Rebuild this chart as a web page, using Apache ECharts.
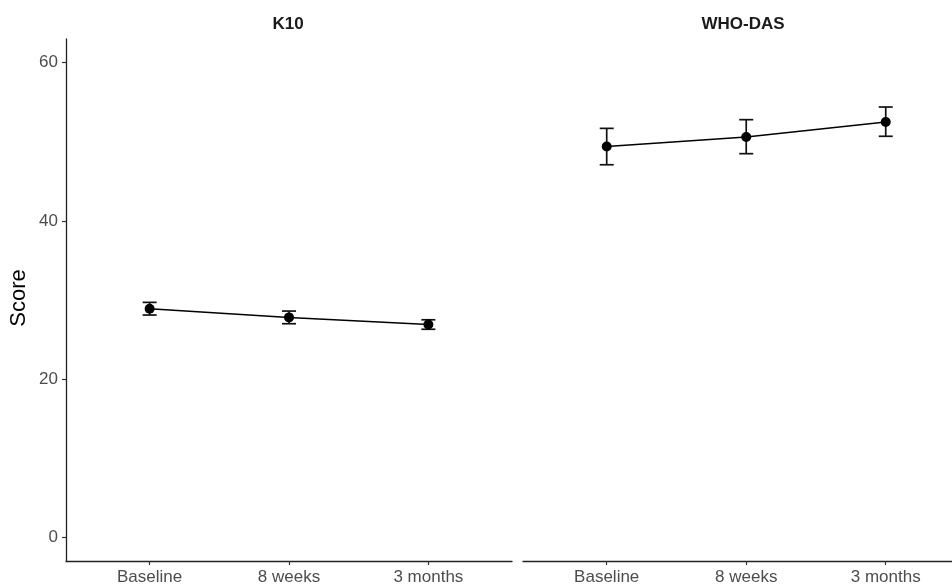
<!DOCTYPE html>
<html style="height: 100%">
<head>
	<meta charset="utf-8">
</head>
<body style="height: 100%; margin: 0; background: #fff">
	<div id="container" style="width: 952px; height: 586px"></div>
	<script type="text/javascript" src="https://cdn.jsdelivr.net/npm/echarts@6/dist/echarts.min.js"></script>
	<script type="text/javascript">
		// timepoints and panels
		let timepoints = ['Baseline', '8 weeks', '3 months'];
		let panels = ['K10', 'WHO-DAS'];
		let yTicks = [0, 20, 40, 60];

		// mean and interval per panel
		let k10Mean = [28.9, 27.8, 26.9];
		let k10Low = [28.1, 27.0, 26.3];
		let k10High = [29.7, 28.6, 27.5];
		let whoMean = [49.4, 50.6, 52.5];
		let whoLow = [47.1, 48.5, 50.7];
		let whoHigh = [51.7, 52.8, 54.4];

		let dom = document.getElementById('container');
		let myChart = echarts.init(dom);
		let font = 'Liberation Sans, Arial, sans-serif';
		let xPos = [1, 2, 3];

		function lineData(mean) {
			return mean.map(function (v, i) { return [xPos[i], v]; });
		}
		function barData(low, high) {
			return low.map(function (v, i) { return [xPos[i], v, high[i]]; });
		}

		function renderBar(params, api) {
			let lo = api.coord([api.value(0), api.value(1)]);
			let hi = api.coord([api.value(0), api.value(2)]);
			let half = 7;
			let st = { stroke: '#111', lineWidth: 1.7 };
			return {
				type: 'group',
				children: [
					{ type: 'line', shape: { x1: lo[0], y1: lo[1], x2: hi[0], y2: hi[1] }, style: st },
					{ type: 'line', shape: { x1: lo[0] - half, y1: lo[1], x2: lo[0] + half, y2: lo[1] }, style: st },
					{ type: 'line', shape: { x1: hi[0] - half, y1: hi[1], x2: hi[0] + half, y2: hi[1] }, style: st }
				]
			};
		}

		// right panel is cut by the picture edge, so its range stops early
		function xAxis(idx, max) {
			return {
				type: 'value',
				gridIndex: idx,
				min: 0.4,
				max: max,
				splitLine: { show: false },
				axisLine: { show: true, onZero: false, lineStyle: { color: '#222', width: 1.3 } },
				axisTick: { show: true, customValues: xPos, length: 4, lineStyle: { color: '#333', width: 1.2 } },
				axisLabel: {
					customValues: xPos,
					formatter: function (v) { return timepoints[Math.round(v) - 1]; },
					color: '#4d4d4d', fontSize: 17, fontFamily: font, margin: 8
				}
			};
		}

		function yAxis(idx, show) {
			return {
				type: 'value',
				gridIndex: idx,
				min: -3,
				max: 63,
				show: show,
				splitLine: { show: false },
				axisLine: { show: true, onZero: false, lineStyle: { color: '#222', width: 1.3 } },
				axisTick: { show: true, customValues: yTicks, length: 4, lineStyle: { color: '#333', width: 1.2 } },
				axisLabel: {
					customValues: yTicks,
					color: '#4d4d4d', fontSize: 17, fontFamily: font, margin: 8
				}
			};
		}

		function lineSeries(idx, mean) {
			return {
				type: 'line',
				xAxisIndex: idx,
				yAxisIndex: idx,
				data: lineData(mean),
				symbol: 'circle',
				symbolSize: 10,
				itemStyle: { color: '#000' },
				lineStyle: { color: '#000', width: 1.5 },
				animation: false,
				z: 3
			};
		}

		function barSeries(idx, low, high) {
			return {
				type: 'custom',
				xAxisIndex: idx,
				yAxisIndex: idx,
				data: barData(low, high),
				renderItem: renderBar,
				encode: { x: 0, y: [1, 2] },
				animation: false,
				z: 2
			};
		}

		let option = {
			backgroundColor: '#fff',
			title: [
				{ text: panels[0], left: 283, top: 11, textAlign: 'center',
					textStyle: { fontSize: 17, fontWeight: 'bold', color: '#1a1a1a', fontFamily: font } },
				{ text: panels[1], left: 738, top: 11, textAlign: 'center',
					textStyle: { fontSize: 17, fontWeight: 'bold', color: '#1a1a1a', fontFamily: font } }
			],
			graphic: [
				{
					type: 'text',
					x: 19, y: 298,
					rotation: Math.PI / 2,
					style: { text: 'Score', fontSize: 22, fontFamily: font, fill: '#000', align: 'center', verticalAlign: 'middle' }
				}
			],
			grid: [
				{ left: 66, top: 39, width: 446, height: 523 },
				{ left: 523, top: 39, right: 0, height: 523 }
			],
			xAxis: [xAxis(0, 3.6), xAxis(1, 3.475)],
			yAxis: [yAxis(0, true), yAxis(1, false)],
			series: [
				barSeries(0, k10Low, k10High),
				lineSeries(0, k10Mean),
				barSeries(1, whoLow, whoHigh),
				lineSeries(1, whoMean)
			]
		};

		myChart.setOption(option);
	</script>
</body>
</html>
